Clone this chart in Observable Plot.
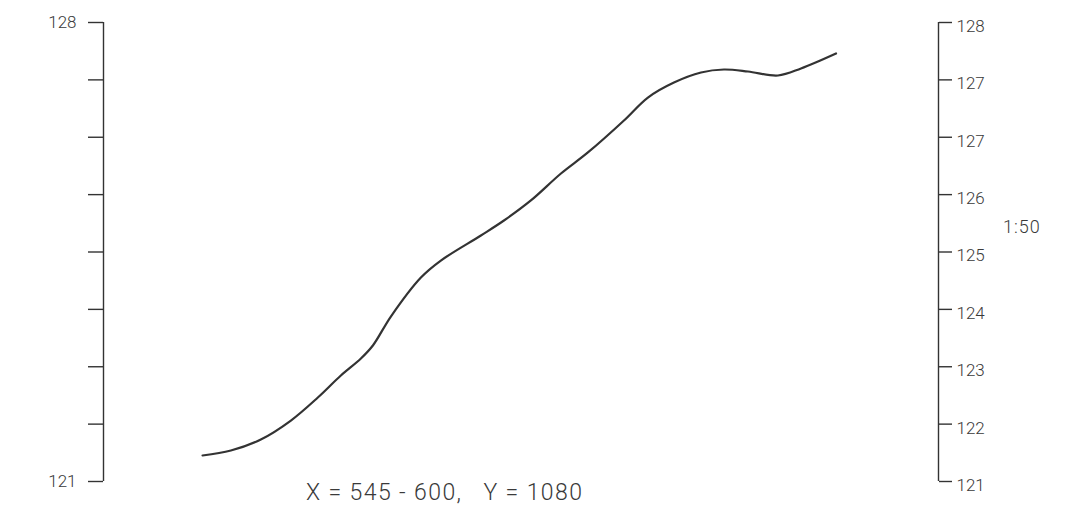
<!DOCTYPE html>
<html>
<head>
<meta charset="utf-8">
<script src="https://cdn.jsdelivr.net/npm/d3@7"></script>
<script src="https://cdn.jsdelivr.net/npm/@observablehq/plot@0.6"></script>
<style>
  html, body { margin: 0; padding: 0; background: #fff; }
  #wrap { position: relative; width: 1087px; height: 513px; }
  .note { position: absolute; font-family: Roboto, "Liberation Sans", sans-serif; font-weight: 300; color: #3a3a3a; white-space: pre; }
</style>
</head>
<body>
<div id="wrap"></div>
<script>
// profile stations (X) and heights
const stations = [545.00, 547.46, 550.06, 552.67, 555.01, 557.01, 558.75, 559.79, 561.35,
  563.96, 565.69, 569.17, 571.17, 573.51, 576.12, 578.46, 581.59, 583.67, 585.93,
  588.28, 590.27, 592.36, 594.96, 596.96, 600.00];
const heights = [121.397, 121.473, 121.641, 121.930, 122.281, 122.617, 122.876, 123.074, 123.516,
  124.111, 124.370, 124.752, 124.980, 125.286, 125.697, 126.018, 126.506, 126.856, 127.085,
  127.238, 127.283, 127.253, 127.192, 127.299, 127.527];
const yTicks = [121, 121.875, 122.75, 123.625, 124.5, 125.375, 126.25, 127.125, 128];
const rightLabels = ["121", "122", "123", "124", "125", "126", "127", "127", "128"];
const leftLabels = ["121", "", "", "", "", "", "", "", "128"];
const xFrame = [536.4, 608.9];
const yFrame = [121, 128];
const caption = "X = 545 - 600,   Y = 1080";
const scaleNote = "1:50";

const profile = stations.map((x, i) => ({x, y: heights[i]}));
const rightMap = new Map(yTicks.map((t, i) => [t, rightLabels[i]]));
const leftMap = new Map(yTicks.map((t, i) => [t, leftLabels[i]]));

const chart = Plot.plot({
  width: 1087,
  height: 513,
  marginLeft: 103,
  marginRight: 149,
  marginTop: 22,
  marginBottom: 32,
  style: {fontFamily: "Roboto, 'Liberation Sans', sans-serif", fontSize: "17px", fontWeight: 300, color: "#3a3a3a", background: "#fff"},
  x: {domain: xFrame, axis: null},
  y: {domain: yFrame, axis: null},
  marks: [
    Plot.ruleX([xFrame[0], xFrame[1]], {x: d => d, y1: yFrame[0], y2: yFrame[1], stroke: "#333", strokeWidth: 1.4}),
    Plot.axisY(yTicks, {anchor: "left", label: null, tickSize: 15, tickPadding: 12, tickFormat: d => leftMap.get(d), stroke: "#333", strokeWidth: 1.4, strokeOpacity: 1, fill: "#3a3a3a"}),
    Plot.axisY(yTicks, {anchor: "right", label: null, tickSize: 13, tickFormat: () => "", stroke: "#333", strokeWidth: 1.4, strokeOpacity: 1}),
    Plot.axisY(yTicks, {anchor: "right", label: null, tickSize: 0, tickPadding: 18, tickFormat: d => rightMap.get(d), fill: "#3a3a3a", dy: 4}),
    Plot.line(profile, {x: "x", y: "y", curve: "catmull-rom", stroke: "#333", strokeWidth: 2.2})
  ]
});
const wrap = document.getElementById("wrap");
wrap.appendChild(chart);

const cap = document.createElement("div");
cap.className = "note";
cap.textContent = caption;
cap.style.cssText = "left:306px; top:479px; font-size:23px; letter-spacing:1.4px;";
wrap.appendChild(cap);

const sc = document.createElement("div");
sc.className = "note";
sc.textContent = scaleNote;
sc.style.cssText = "left:1003px; top:216px; font-size:18px; letter-spacing:1px;";
wrap.appendChild(sc);
</script>
</body>
</html>
